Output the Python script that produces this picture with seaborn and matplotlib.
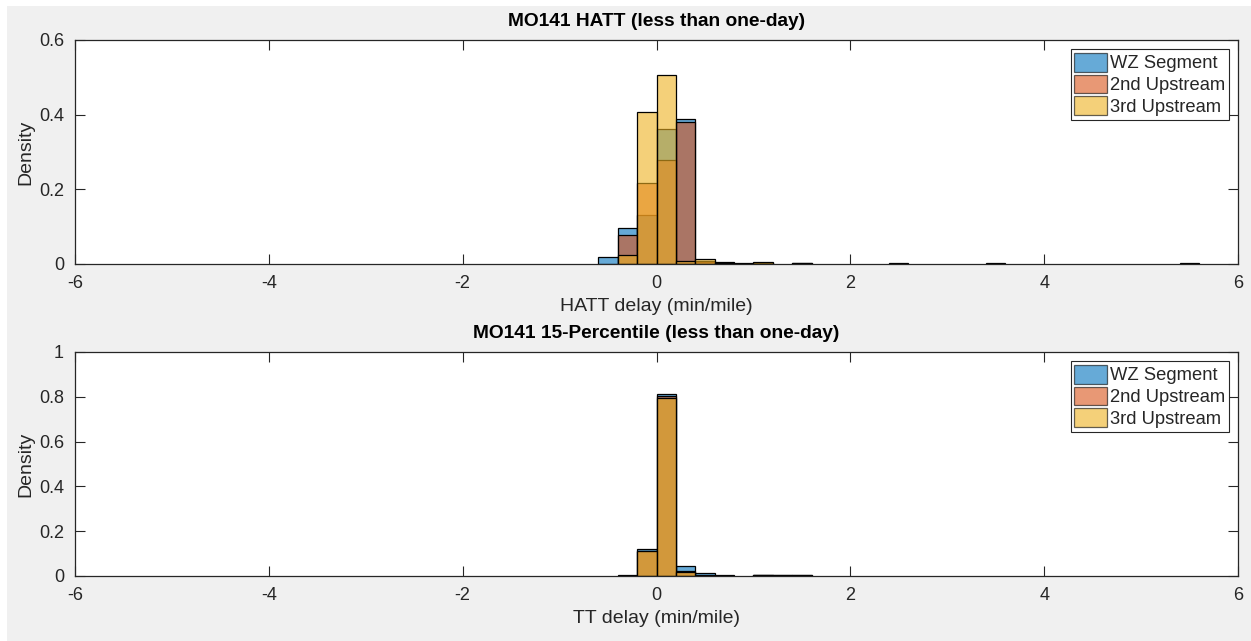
import matplotlib
matplotlib.use('AGG')
import matplotlib.pyplot as plt
from matplotlib.patches import Rectangle, Patch
import numpy as np
import seaborn as sns

# histogram bins (width 0.2), edges from -0.6 to 5.6
bin_edges = [-0.6, -0.4, -0.2, 0.0, 0.2, 0.4, 0.6, 0.8, 1.0, 1.2, 1.4, 1.6, 1.8, 2.0,
             2.2, 2.4, 2.6, 2.8, 3.0, 3.2, 3.4, 3.6, 3.8, 4.0, 4.2, 4.4, 4.6, 4.8,
             5.0, 5.2, 5.4, 5.6]
series_names = ['WZ Segment', '2nd Upstream', '3rd Upstream']

# top panel: HATT delay densities per bin
hatt_wz = [0.020, 0.096, 0.130, 0.361, 0.388, 0.006, 0.004, 0.003, 0.002, 0.0, 0.003, 0.0, 0.0, 0.0,
           0.0, 0.002, 0.0, 0.0, 0.0, 0.0, 0.002, 0.0, 0.0, 0.0, 0.0, 0.0, 0.0, 0.0,
           0.0, 0.0, 0.002]
hatt_up2 = [0.0, 0.077, 0.216, 0.278, 0.381, 0.007, 0.005, 0.001, 0.003, 0.0, 0.002, 0.0, 0.0, 0.0,
            0.0, 0.0, 0.0, 0.0, 0.0, 0.0, 0.0, 0.0, 0.0, 0.0, 0.0, 0.0, 0.0, 0.0,
            0.0, 0.0, 0.0]
hatt_up3 = [0.0, 0.023, 0.407, 0.507, 0.008, 0.013, 0.002, 0.001, 0.005, 0.0, 0.001, 0.0, 0.0, 0.0,
            0.0, 0.0, 0.0, 0.0, 0.0, 0.0, 0.0, 0.0, 0.0, 0.0, 0.0, 0.0, 0.0, 0.0,
            0.0, 0.0, 0.0]

# bottom panel: TT delay (15-percentile) densities per bin
tt_wz = [0.0, 0.003, 0.119, 0.811, 0.045, 0.012, 0.004, 0.0, 0.004, 0.0, 0.0, 0.0, 0.0, 0.0,
         0.0, 0.0, 0.0, 0.0, 0.0, 0.0, 0.0, 0.0, 0.0, 0.0, 0.0, 0.0, 0.0, 0.0,
         0.0, 0.0, 0.0]
tt_up2 = [0.0, 0.002, 0.113, 0.802, 0.022, 0.003, 0.002, 0.0, 0.004, 0.003, 0.006, 0.0, 0.0, 0.0,
          0.0, 0.0, 0.0, 0.0, 0.0, 0.0, 0.0, 0.0, 0.0, 0.0, 0.0, 0.0, 0.0, 0.0,
          0.0, 0.0, 0.0]
tt_up3 = [0.0, 0.002, 0.112, 0.793, 0.020, 0.002, 0.001, 0.0, 0.006, 0.005, 0.003, 0.0, 0.0, 0.0,
          0.0, 0.0, 0.0, 0.0, 0.0, 0.0, 0.0, 0.0, 0.0, 0.0, 0.0, 0.0, 0.0, 0.0,
          0.0, 0.0, 0.0]

colors = [(0.0, 0.447, 0.741), (0.85, 0.325, 0.098), (0.929, 0.694, 0.125)]

sns.set_style('ticks')
plt.rcParams['font.family'] = ['Liberation Sans', 'DejaVu Sans']
plt.rcParams['axes.unicode_minus'] = False
plt.rcParams['axes.edgecolor'] = '#262626'
plt.rcParams['xtick.color'] = '#262626'
plt.rcParams['ytick.color'] = '#262626'
plt.rcParams['text.color'] = '#262626'
plt.rcParams['axes.labelcolor'] = '#262626'


def draw_panel(ax, values, title, xlabel, ymax, yticks):
    centers = np.array(bin_edges[:-1]) + 0.1
    for vals, name, c in zip(values, series_names, colors):
        sns.histplot(x=centers, weights=vals, bins=bin_edges, ax=ax, color=c,
                     alpha=0.6, edgecolor='black', linewidth=0.9)
    # hide empty bins so no black line runs along the baseline
    for p in ax.patches:
        if p.get_height() <= 0:
            p.set_visible(False)
    ax.set_xlim(-6, 6)
    ax.set_ylim(0, ymax)
    ax.set_xticks([-6, -4, -2, 0, 2, 4, 6])
    ax.set_yticks(yticks)
    ax.set_yticklabels([f'{t:g}' for t in yticks])
    ax.tick_params(direction='in', length=7, width=0.8, labelsize=13,
                   top=True, right=True, pad=8)
    for s in ax.spines.values():
        s.set_visible(True)
        s.set_linewidth(0.9)
        s.set_color('#262626')
    ax.set_facecolor('white')
    ax.set_title(title, fontsize=13.8, fontweight='bold', pad=10, color='black')
    ax.set_xlabel(xlabel, fontsize=14, labelpad=4)
    ax.set_ylabel('Density', fontsize=14, labelpad=3)
    handles = [Patch(facecolor=c, alpha=0.6, edgecolor='black', linewidth=0.9)
               for c in colors]
    leg = ax.legend(handles, series_names, loc='upper right', fontsize=13.2,
                    frameon=True, fancybox=False, framealpha=1,
                    borderaxespad=0.5, handlelength=1.8, handleheight=1.2,
                    handletextpad=0.15, labelspacing=0.12, borderpad=0.2)
    leg.get_frame().set_edgecolor('#262626')
    leg.get_frame().set_linewidth(0.8)


fig = plt.figure(figsize=(12.51, 6.41), dpi=100, facecolor='white')
fig.patches.append(Rectangle((7 / 1251, 0), 1, 1 - 6 / 641, transform=fig.transFigure,
                             facecolor='#F0F0F0', edgecolor='none', zorder=-10))

ax1 = fig.add_axes([75 / 1251, 1 - 264 / 641, 1163 / 1251, 224 / 641])
ax2 = fig.add_axes([75 / 1251, 1 - 576 / 641, 1163 / 1251, 224 / 641])

draw_panel(ax1, [hatt_wz, hatt_up2, hatt_up3], 'MO141 HATT (less than one-day)',
           'HATT delay (min/mile)', 0.6, [0, 0.2, 0.4, 0.6])
draw_panel(ax2, [tt_wz, tt_up2, tt_up3], 'MO141 15-Percentile (less than one-day)',
           'TT delay (min/mile)', 1.0, [0, 0.2, 0.4, 0.6, 0.8, 1.0])

fig.savefig('out.png', dpi=100, facecolor=fig.get_facecolor())
